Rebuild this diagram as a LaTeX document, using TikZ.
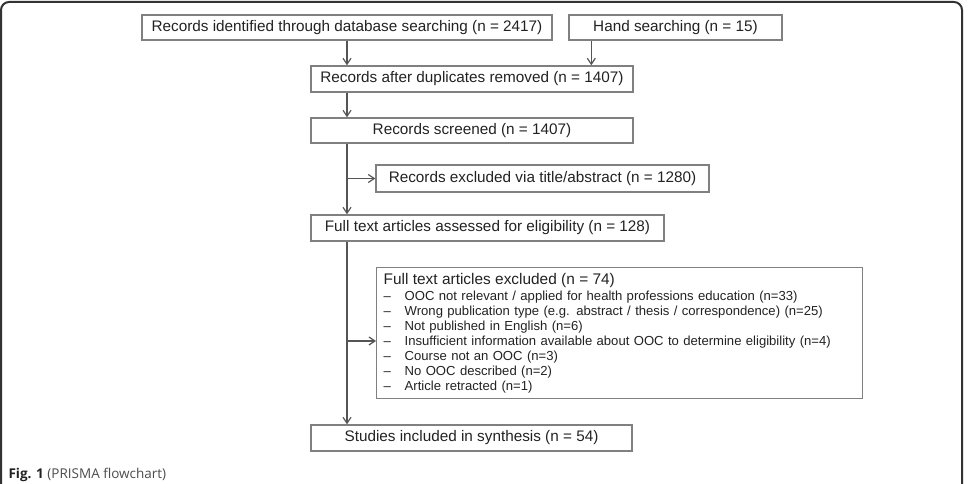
\documentclass[tikz,border=0pt]{standalone}
\usepackage{fontspec}
\setmainfont{Liberation Sans}
\newfontfamily\capfont{Open Sans}
\usetikzlibrary{arrows.meta}
\definecolor{boxgray}{HTML}{808080}
\definecolor{linegray}{HTML}{555555}
\definecolor{framegray}{HTML}{333333}
\definecolor{textgray}{HTML}{222222}
\tikzset{
  stage/.style={draw=boxgray, line width=1.4pt, minimum height=25pt, inner sep=0pt,
    text=textgray, font=\fontsize{15.3}{18}\selectfont},
  flow/.style={draw=linegray, line width=1.2pt, -{Straight Barb[length=6pt,width=8pt]}},
}
\newcommand{\exitem}[1]{\makebox[21pt][l]{--}#1}
\begin{document}
\begin{tikzpicture}[x=1pt,y=-1pt]
  \clip (0,0) rectangle (969,484);
  %% frame
  \draw[framegray, line width=2pt, rounded corners=8pt] (1,2) rectangle (962,510);
  %% identification
  \node[stage, minimum width=410pt] (db) at (347,27.5) {Records identified through database searching (n = 2417)};
  \node[stage, minimum width=213pt] (hand) at (675.5,27.5) {Hand searching (n = 15)};
  \node[stage, minimum width=322pt, minimum height=26pt] (dup) at (472,79) {Records after duplicates removed (n = 1407)};
  %% screening
  \node[stage, minimum width=322pt] (screen) at (472,130.5) {Records screened (n = 1407)};
  \node[stage, minimum width=333pt, minimum height=27pt] (exabs) at (542.5,178.5) {Records excluded via title/abstract (n = 1280)};
  %% eligibility
  \node[stage, minimum width=353pt, minimum height=26pt] (full) at (487.5,228) {Full text articles assessed for eligibility (n = 128)};
  \node[stage, anchor=north west, minimum height=131pt, text width=472pt, inner xsep=7pt,
    align=left, font=\fontsize{13.1}{15}\selectfont] (exfull) at (376,267)
    {{\fontsize{15.4}{18}\selectfont Full text articles excluded (n = 74)}\\[1pt]
     \exitem{OOC not relevant / applied for health professions education (n=33)}\\
     \exitem{Wrong publication type (e.g. abstract / thesis / correspondence) (n=25)}\\
     \exitem{Not published in English (n=6)}\\
     \exitem{Insufficient information available about OOC to determine eligibility (n=4)}\\
     \exitem{Course not an OOC (n=3)}\\
     \exitem{No OOC described (n=2)}\\
     \exitem{Article retracted (n=1)}};
  %% included
  \node[stage, minimum width=321pt, minimum height=26pt] (incl) at (471.5,438) {Studies included in synthesis (n = 54)};
  %% arrows
  \draw[flow] (db.south) -- (db.south |- dup.north);
  \draw[flow] ([xshift=23pt]hand.south west) -- ([xshift=23pt]hand.south west |- dup.north);
  \draw[flow] (db.south |- dup.south) -- (db.south |- screen.north);
  \draw[flow] (db.south |- screen.south) -- (db.south |- full.north);
  \draw[flow] (db.south |- exabs.west) -- (exabs.west);
  \draw[flow] (db.south |- full.south) -- (db.south |- incl.north);
  \draw[flow] (db.south |- 0,341) -- (exfull.west |- 0,341);
  %% caption
  \node[anchor=base west, font=\capfont\fontsize{13.5}{16}\selectfont, text=textgray] (cap) at (5,478)
    {\textbf{Fig. 1} {\color{black!70}(PRISMA flowchart)}};
\end{tikzpicture}
\end{document}
